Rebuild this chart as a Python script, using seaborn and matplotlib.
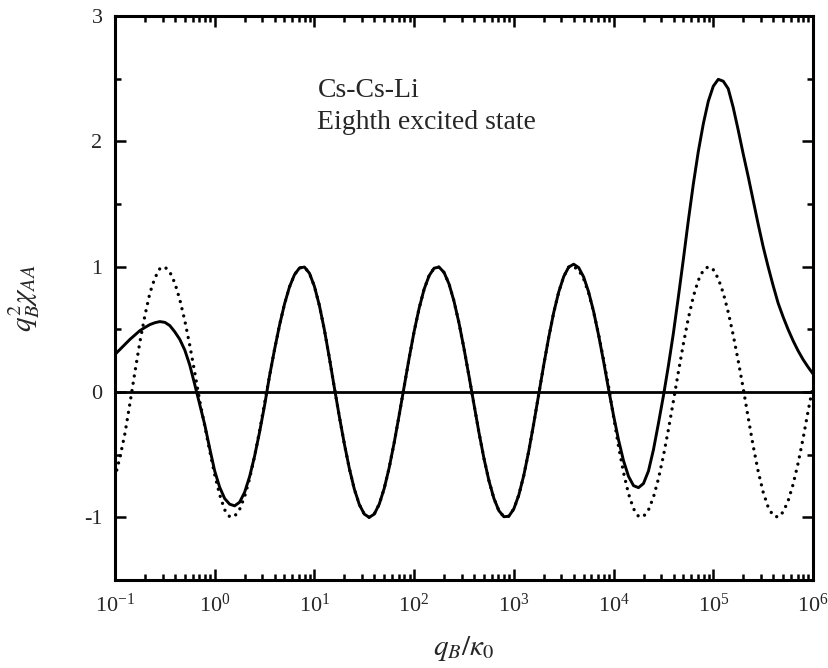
import numpy as np
import pandas as pd
import matplotlib
matplotlib.use("Agg")
import matplotlib.pyplot as plt
import seaborn as sns
from matplotlib.ticker import FixedLocator, LogLocator

# log10(q_B / kappa_0) sampling positions
log_q = [
    -1.00, -0.95, -0.90, -0.85, -0.80, -0.75, -0.70, -0.65, -0.60, -0.55,
    -0.50, -0.45, -0.40, -0.35, -0.30, -0.25, -0.20, -0.15, -0.10, -0.05,
    0.00, 0.05, 0.10, 0.15, 0.20, 0.25, 0.30, 0.35, 0.40, 0.45,
    0.50, 0.55, 0.60, 0.65, 0.70, 0.75, 0.80, 0.85, 0.90, 0.95,
    1.00, 1.05, 1.10, 1.15, 1.20, 1.25, 1.30, 1.35, 1.40, 1.45,
    1.50, 1.55, 1.60, 1.65, 1.70, 1.75, 1.80, 1.85, 1.90, 1.95,
    2.00, 2.05, 2.10, 2.15, 2.20, 2.25, 2.30, 2.35, 2.40, 2.45,
    2.50, 2.55, 2.60, 2.65, 2.70, 2.75, 2.80, 2.85, 2.90, 2.95,
    3.00, 3.05, 3.10, 3.15, 3.20, 3.25, 3.30, 3.35, 3.40, 3.45,
    3.50, 3.55, 3.60, 3.65, 3.70, 3.75, 3.80, 3.85, 3.90, 3.95,
    4.00, 4.05, 4.10, 4.15, 4.20, 4.25, 4.30, 4.35, 4.40, 4.45,
    4.50, 4.55, 4.60, 4.65, 4.70, 4.75, 4.80, 4.85, 4.90, 4.95,
    5.00, 5.05, 5.10, 5.15, 5.20, 5.25, 5.30, 5.35, 5.40, 5.45,
    5.50, 5.55, 5.60, 5.65, 5.70, 5.75, 5.80, 5.85, 5.90, 5.95,
    6.00,
]
x_decades = [-1, 0, 1, 2, 3, 4, 5, 6]

# solid curve, q < 10^0.55
solid_left = [
    0.30, 0.34, 0.38, 0.42, 0.455, 0.49, 0.515, 0.538, 0.553, 0.562,
    0.556, 0.53, 0.48, 0.42, 0.335, 0.215, 0.06, -0.10, -0.26, -0.45,
    -0.63, -0.76, -0.85, -0.895, -0.908, -0.879, -0.80, -0.675, -0.512, -0.32,
    -0.108,
]
# dotted curve, q < 10^0.55
dotted_left = [
    -0.68, -0.52, -0.33, -0.09, 0.16, 0.40, 0.61, 0.79, 0.91, 0.985,
    0.998, 0.958, 0.87, 0.738, 0.57, 0.373, 0.156, -0.07, -0.27, -0.47,
    -0.66, -0.82, -0.94, -0.995, -0.991, -0.936, -0.835, -0.691, -0.513, -0.309,
    -0.089,
]
# both curves coincide between 10^0.55 and 10^3.55
shared_mid = [
    0.129, 0.339, 0.533, 0.702, 0.839, 0.936, 0.99, 0.997, 0.948,
    0.843, 0.690, 0.496, 0.272, 0.035, -0.196, -0.413, -0.609, -0.774, -0.897,
    -0.974, -1.0, -0.974, -0.895, -0.769, -0.603, -0.404, -0.184, 0.046, 0.271,
    0.483, 0.668, 0.820, 0.928, 0.988, 0.997, 0.954, 0.862, 0.724, 0.55,
    0.347, 0.127, -0.10, -0.323, -0.529, -0.707, -0.849, -0.947, -0.995, -0.991,
    -0.932, -0.821, -0.664, -0.469, -0.249, -0.014, 0.217, 0.437, 0.635, 0.798,
    0.921, 0.997,
]
# solid curve, q >= 10^3.6
solid_right = [
    1.02, 0.993, 0.918, 0.798, 0.642, 0.453, 0.244, 0.022,
    -0.188, -0.383, -0.549, -0.673, -0.747, -0.763, -0.73, -0.63, -0.46, -0.25,
    -0.03, 0.21, 0.47, 0.76, 1.06, 1.37, 1.66, 1.92, 2.14, 2.32,
    2.44, 2.495, 2.48, 2.42, 2.27, 2.09, 1.90, 1.72, 1.53, 1.34,
    1.16, 1.00, 0.85, 0.71, 0.60, 0.50, 0.41, 0.33, 0.26, 0.20,
    0.145,
]
# dotted curve, q >= 10^3.6
dotted_right = [
    1.0, 0.974, 0.902, 0.789, 0.639, 0.459, 0.257, 0.044,
    -0.198, -0.434, -0.643, -0.812, -0.931, -0.992, -0.993, -0.941, -0.839, -0.692,
    -0.509, -0.299, -0.073, 0.16, 0.384, 0.589, 0.762, 0.892, 0.972, 1.0,
    0.976, 0.905, 0.79, 0.637, 0.454, 0.249, 0.031, -0.204, -0.43, -0.632,
    -0.798, -0.918, -0.986, -0.998, -0.958, -0.87, -0.738, -0.57, -0.373, -0.156,
    0.05,
]

q = 10 ** np.array(log_q)
solid = solid_left + shared_mid + solid_right
dotted = dotted_left + shared_mid + dotted_right

sns.set_style("ticks")
plt.rcParams["font.family"] = "serif"
plt.rcParams["font.serif"] = ["Liberation Serif", "DejaVu Serif"]
plt.rcParams["mathtext.fontset"] = "stix"
plt.rcParams["axes.unicode_minus"] = False

fig = plt.figure(figsize=(8.29, 6.68), dpi=100)
ax = fig.add_axes([0.1387, 0.1317, 0.842, 0.8443])

ax.axhline(0, color="black", lw=2.0, zorder=1)
sns.lineplot(x=q, y=dotted, color="black", lw=2.4,
             linestyle=(0, (0.01, 2.2)), dash_capstyle="round", ax=ax)
sns.lineplot(x=q, y=solid, color="black", lw=2.1, ax=ax)

ax.set_xscale("log")
ax.set_xlim(1e-1, 1e6)
ax.set_ylim(-1.5, 3)
ax.xaxis.set_major_locator(FixedLocator([10.0 ** k for k in x_decades]))
ax.xaxis.set_minor_locator(LogLocator(base=10, subs=np.arange(2, 10)))
ax.set_yticks([-1, 0, 1, 2, 3])
ax.yaxis.set_minor_locator(FixedLocator([-0.5, 0.5, 1.5, 2.5]))

for s in ax.spines.values():
    s.set_linewidth(2.2)
    s.set_color("black")
ax.tick_params(which="both", direction="in", top=True, right=True,
               width=1.8, color="black", labelsize=16)
ax.tick_params(which="major", length=8)
ax.tick_params(which="minor", length=4)
ax.tick_params(axis="x", which="major", pad=10)
ax.tick_params(axis="y", which="major", pad=9)

ax.set_xlabel(r"$q_B/\kappa_0$", fontsize=21)
ax.set_ylabel(r"$q_B^2\chi_{AA}$", fontsize=21)
ax.xaxis.set_label_coords(0.5, -0.095)
ax.yaxis.set_label_coords(-0.105, 0.5)

ax.text(0.29, 0.856, "Cs-Cs-Li", transform=ax.transAxes, fontsize=20)
ax.text(0.29, 0.80, "Eighth excited state", transform=ax.transAxes, fontsize=20)

fig.savefig("out.png", dpi=100)
